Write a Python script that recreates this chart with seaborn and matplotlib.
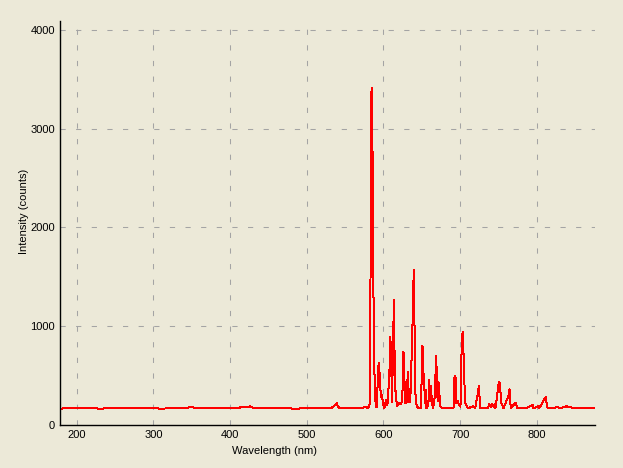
import matplotlib
matplotlib.use("Agg")
import matplotlib.pyplot as plt
import seaborn as sns
from matplotlib.ticker import MultipleLocator

# spectrum vertices (nm, counts)
wavelength = [178.3, 178.6, 190, 200, 215, 230, 250, 270, 290, 310, 330, 345, 350, 355,
              375, 395, 410, 418, 422, 426, 430, 445, 465, 485, 505, 520, 532, 537, 539,
              541, 545, 560, 572, 576, 579, 581.5, 582.6, 583.9, 585.2, 586.5, 587.5, 588.7,
              590.0, 591.5, 593.0, 594.3, 595.5, 596.8, 598.0, 599.5, 600.9, 602.0, 603.5,
              605.0, 606.1, 607.0, 607.8, 608.7, 609.5, 610.4, 611.3, 612.5, 613.9, 614.8,
              616.0, 616.5, 618.0, 620.0, 622.0, 624.5, 626.0, 627.0, 627.8, 629.3, 630.0,
              631.5, 632.2, 633.0, 634.0, 635.0, 637.5, 638.3, 639.5, 640.5, 641.3, 642.2,
              643.5, 645.0, 648.5, 649.6, 650.9, 651.7, 652.6, 653.5, 654.3, 655.2, 656.1,
              658.3, 658.7, 659.6, 660.4, 661.3, 662.2, 663.0, 664.8, 667.4, 668.3, 669.1,
              670.0, 671.0, 671.7, 672.6, 673.5, 674.3, 676.1, 685, 691.3, 692.2, 693.1,
              693.9, 694.3, 695.2, 697.0, 698.7, 700.4, 702.2, 703.5, 705.2, 706.5, 708.2,
              710.4, 716.9, 719.5, 723.5, 724.3, 726.0, 726.5, 736, 738.2, 740.0, 741.7,
              743.5, 745.2, 746.0, 750.4, 751.3, 752.2, 753.0, 754.8, 756.5, 763.5, 764.3,
              765.2, 766.1, 772.2, 773.1, 774.0, 785, 794.7, 795.6, 802.0, 803.0, 810.9,
              811.7, 813.0, 814.3, 827.4, 830, 839, 841, 843, 852, 865, 875.8]
intensity = [0, 165, 172, 168, 172, 166, 170, 168, 172, 166, 170, 176, 182, 170,
             168, 170, 172, 186, 180, 190, 172, 168, 170, 166, 170, 168, 172, 200, 220,
             180, 168, 170, 168, 185, 170, 190, 270, 3350, 3410, 1815, 810, 375,
             186, 180, 577, 628, 425, 283, 300, 223, 169, 200, 253,
             200, 270, 456, 527, 894, 500, 844, 236, 880, 1266, 347,
             350, 260, 190, 220, 210, 240, 742, 700, 226, 320, 220,
             489, 540, 250, 230, 250, 894, 1165, 1570, 995, 405, 223,
             200, 169, 170, 405, 800, 628, 435, 354, 223, 354, 169,
             200, 240, 456, 354, 240, 400, 223, 169, 320, 698, 610,
             320, 240, 439, 354, 240, 190, 169, 170, 169, 476, 440,
             496, 290, 223, 240, 200, 186, 890, 945, 506, 223, 200,
             169, 192, 169, 340, 395, 200, 169, 168, 212, 186, 212,
             186, 212, 170, 432, 432, 415, 236, 200, 169, 304, 361,
             236, 175, 226, 220, 169, 168, 206, 169, 190, 169, 277,
             287, 200, 169, 180, 168, 190, 185, 178, 175, 170, 168]

bg = "#ECE9D8"
sns.set_style("white", rc={"axes.facecolor": bg, "figure.facecolor": bg,
                           "text.color": "black", "axes.labelcolor": "black",
                           "xtick.color": "black", "ytick.color": "black"})
plt.rcParams["font.family"] = ["Liberation Sans", "DejaVu Sans"]

fig = plt.figure(figsize=(6.23, 4.68), dpi=100)
ax = fig.add_axes([60 / 623, 43 / 468, 535 / 623, 404 / 468])

sns.lineplot(x=wavelength, y=intensity, ax=ax, color="#ff0000", linewidth=0.72,
             estimator=None, sort=False, antialiased=False)

ax.set_xlim(178.3, 875.8)
ax.set_ylim(0, 4091)
ax.xaxis.set_major_locator(MultipleLocator(100))
ax.xaxis.set_minor_locator(MultipleLocator(50))
ax.yaxis.set_major_locator(MultipleLocator(1000))
ax.yaxis.set_minor_locator(MultipleLocator(500))

ax.grid(True, which="major", color="#a4a4a4", linewidth=0.75, linestyle=(0, (5, 10)))
ax.set_axisbelow(True)

for s in ["top", "right"]:
    ax.spines[s].set_visible(False)
for s in ["left", "bottom"]:
    ax.spines[s].set_color("black")
    ax.spines[s].set_linewidth(1.0)

ax.tick_params(which="both", direction="inout", length=5, width=0.9, color="black",
               labelcolor="black", labelsize=8, pad=1)

ax.set_xlabel("Wavelength (nm)", fontsize=8)
ax.set_ylabel("Intensity (counts)", fontsize=8)
ax.xaxis.set_label_coords(0.40, -0.052)
ax.yaxis.set_label_coords(-0.058, 0.53)

fig.savefig("out.png", dpi=100, facecolor=bg)
